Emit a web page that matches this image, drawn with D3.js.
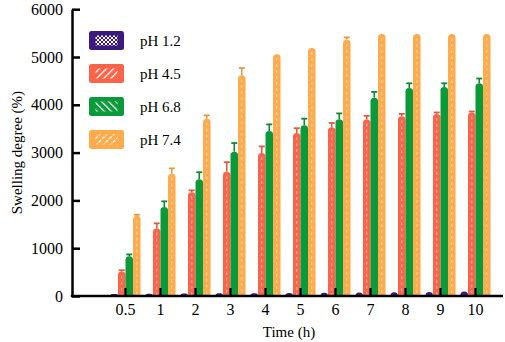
<!DOCTYPE html>
<html>
<head>
<meta charset="utf-8">
<script src="https://cdn.jsdelivr.net/npm/d3@7"></script>
<style>
  body { margin: 0; background: #fff; }
  svg text { font-family: "Liberation Serif", "Times New Roman", serif; fill: #000; }
</style>
</head>
<body>
<div id="chart"></div>
<script>
const times = ["0.5", "1", "2", "3", "4", "5", "6", "7", "8", "9", "10"];
const seriesNames = ["pH 1.2", "pH 4.5", "pH 6.8", "pH 7.4"];
const colors = ["#3d1b7c", "#fb6449", "#0b9a3a", "#fdab4c"];
const yTicks = [0, 1000, 2000, 3000, 4000, 5000, 6000];

const ph12 = [40, 45, 50, 55, 60, 65, 70, 75, 80, 85, 95];
const ph12Err = [0, 0, 0, 0, 0, 0, 0, 0, 0, 0, 0];
const ph45 = [510, 1410, 2170, 2600, 2990, 3410, 3530, 3690, 3760, 3810, 3840];
const ph45Err = [30, 110, 40, 200, 140, 100, 90, 80, 50, 30, 20];
const ph68 = [830, 1860, 2440, 3020, 3450, 3570, 3700, 4150, 4350, 4370, 4450];
const ph68Err = [40, 120, 150, 180, 140, 140, 120, 120, 100, 80, 100];
const ph74 = [1680, 2560, 3710, 4620, 5060, 5190, 5360, 5480, 5480, 5480, 5480];
const ph74Err = [20, 110, 70, 150, 0, 0, 50, 0, 0, 0, 0];

const values = [ph12, ph45, ph68, ph74];
const errors = [ph12Err, ph45Err, ph68Err, ph74Err];

const W = 505, H = 342;
const axisX = 72, axisRight = 503;

const svg = d3.select("#chart").append("svg")
  .attr("width", W)
  .attr("height", H);

// patterns for the legend swatches and the bar streaks
const defs = svg.append("defs");
const checker = defs.append("pattern")
  .attr("id", "p0").attr("patternUnits", "userSpaceOnUse")
  .attr("width", 4).attr("height", 4);
checker.append("rect").attr("width", 4).attr("height", 4).attr("fill", colors[0]);
checker.append("rect").attr("width", 2).attr("height", 2).attr("fill", "#fff");
checker.append("rect").attr("x", 2).attr("y", 2).attr("width", 2).attr("height", 2).attr("fill", "#fff");

[[1, 45, "none"], [2, -45, "none"], [3, 45, "2,1.5"]].forEach(([i, ang, dash]) => {
  const p = defs.append("pattern")
    .attr("id", "p" + i).attr("patternUnits", "userSpaceOnUse")
    .attr("width", 5).attr("height", 5)
    .attr("patternTransform", `rotate(${ang})`);
  p.append("rect").attr("width", 5).attr("height", 5).attr("fill", colors[i]);
  p.append("line").attr("x1", 0).attr("y1", 0).attr("x2", 0).attr("y2", 5)
    .attr("stroke", "#fff").attr("stroke-width", 2.4)
    .attr("stroke-dasharray", dash);
});

const x = d3.scaleBand()
  .domain(times)
  .range([108, 493])
  .paddingInner(0.14)
  .paddingOuter(0.07);

const xs = d3.scaleBand()
  .domain(d3.range(seriesNames.length))
  .range([0, x.bandwidth()]);

const y = d3.scaleLinear()
  .domain([0, 6000])
  .range([296, 9.2]);

function barPath(x0, w, yTop, yBase) {
  const r = Math.min(w / 2, yBase - yTop, 3.6);
  return `M${x0},${yBase}V${yTop + r}Q${x0},${yTop} ${x0 + r},${yTop}` +
    `H${x0 + w - r}Q${x0 + w},${yTop} ${x0 + w},${yTop + r}V${yBase}Z`;
}

// bars
const groups = svg.append("g").selectAll("g")
  .data(seriesNames.map((name, i) => i))
  .enter().append("g");

groups.each(function (si) {
  const g = d3.select(this);
  const data = times.map((t, k) => ({ t, v: values[si][k], e: errors[si][k] }));

  // error bars first (upper only)
  data.filter(d => d.e > 0).forEach(d => {
    const cx = x(d.t) + xs(si) + xs.bandwidth() / 2;
    g.append("line")
      .attr("x1", cx).attr("x2", cx)
      .attr("y1", y(d.v)).attr("y2", y(d.v + d.e))
      .attr("stroke", d3.color(colors[si]).darker(0.3)).attr("stroke-width", 1.6);
    g.append("line")
      .attr("x1", cx - 3).attr("x2", cx + 3)
      .attr("y1", y(d.v + d.e)).attr("y2", y(d.v + d.e))
      .attr("stroke", d3.color(colors[si]).darker(0.3)).attr("stroke-width", 1.8);
  });

  g.selectAll("path.bar")
    .data(data)
    .enter().append("path")
    .attr("class", "bar")
    .attr("d", d => barPath(x(d.t) + xs(si), xs.bandwidth(), y(d.v), y(0)))
    .attr("fill", colors[si]);

  // light dashed streak down the middle of the striped bars
  if (si === 1 || si === 3) {
    g.selectAll("line.streak")
      .data(data)
      .enter().append("line")
      .attr("class", "streak")
      .attr("x1", d => x(d.t) + xs(si) + xs.bandwidth() / 2)
      .attr("x2", d => x(d.t) + xs(si) + xs.bandwidth() / 2)
      .attr("y1", d => y(d.v) + 4)
      .attr("y2", y(0))
      .attr("stroke", "rgba(255,255,255,0.55)")
      .attr("stroke-width", 1)
      .attr("stroke-dasharray", "3,3");
  }
});

// y axis (ticks point inward)
const yAxis = svg.append("g")
  .attr("transform", `translate(${axisX},0)`)
  .call(d3.axisLeft(y).tickValues(yTicks).tickFormat(d3.format("d"))
    .tickSizeInner(-8).tickSizeOuter(0).tickPadding(9));
yAxis.select(".domain").attr("stroke-width", 2.5);
yAxis.selectAll(".tick line").attr("stroke-width", 2.5);
yAxis.selectAll("text").style("font-size", "16px");

// x axis
const xAxis = svg.append("g")
  .attr("transform", `translate(0,${y(0)})`)
  .call(d3.axisBottom(x).tickSizeInner(-8).tickSizeOuter(0).tickPadding(8));
xAxis.select(".domain").remove();
xAxis.append("line")
  .attr("x1", axisX - 1.2).attr("x2", axisRight)
  .attr("stroke", "#000").attr("stroke-width", 2.5);
xAxis.selectAll(".tick line").attr("stroke-width", 2.2);
xAxis.selectAll("text").style("font-size", "16px");

// axis titles
svg.append("text")
  .attr("x", 289).attr("y", 337)
  .attr("text-anchor", "middle")
  .style("font-size", "15px")
  .text("Time (h)");

svg.append("text")
  .attr("transform", `translate(22,${(y(0) + y(6000)) / 2}) rotate(-90)`)
  .attr("text-anchor", "middle")
  .style("font-size", "15px")
  .text("Swelling degree (%)");

// legend
const legend = svg.append("g").attr("transform", "translate(89,31)");
seriesNames.forEach((name, i) => {
  const row = legend.append("g").attr("transform", `translate(0,${i * 33})`);
  row.append("rect")
    .attr("width", 35).attr("height", 19).attr("rx", 2.5)
    .attr("fill", colors[i]);
  row.append("rect")
    .attr("x", 6.5).attr("y", 4.5).attr("width", 22).attr("height", 10)
    .attr("fill", `url(#p${i})`);
  row.append("text")
    .attr("x", 51).attr("y", 15)
    .style("font-size", "15px")
    .text(name);
});
</script>
</body>
</html>
